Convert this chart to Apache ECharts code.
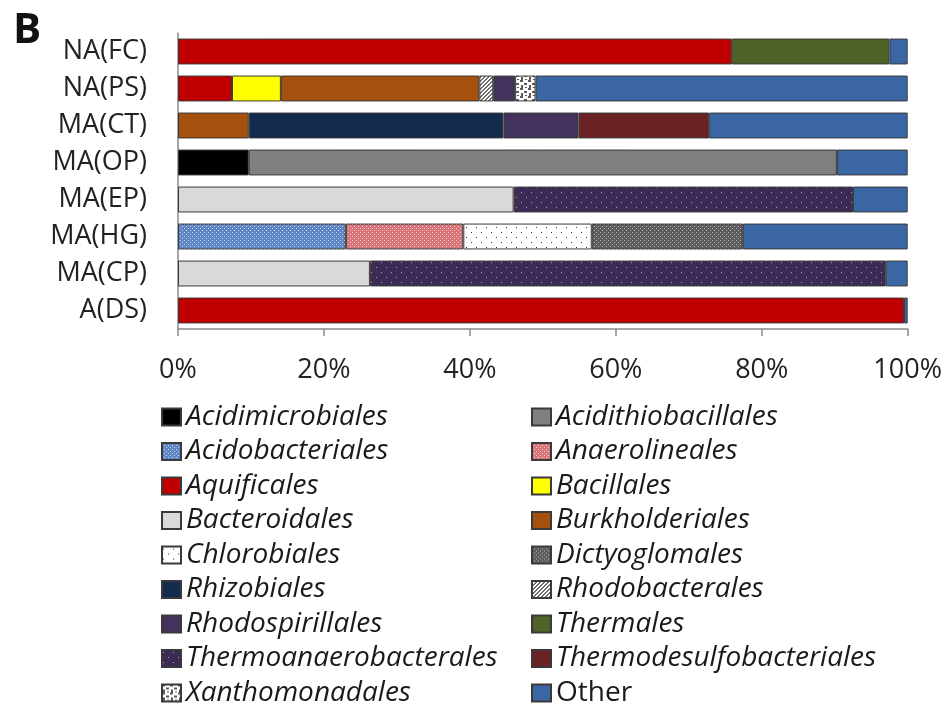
<!DOCTYPE html>
<html>
<head>
<meta charset="utf-8">
<script src="https://cdn.jsdelivr.net/npm/echarts@6/dist/echarts.min.js"></script>
<style>
  html, body { margin: 0; padding: 0; background: #fff; }
  #chart { width: 945px; height: 704px; }
</style>
</head>
<body>
<div id="chart"></div>
<script>
// samples, top to bottom
const samples = ['NA(FC)', 'NA(PS)', 'MA(CT)', 'MA(OP)', 'MA(EP)', 'MA(HG)', 'MA(CP)', 'A(DS)'];
const xTicks = [0, 20, 40, 60, 80, 100];

// relative abundance (%) per order, same order as samples
const acidimicrobiales         = [0, 0, 0, 9.7, 0, 0, 0, 0];
const acidithiobacillales      = [0, 0, 0, 80.6, 0, 0, 0, 0];
const acidobacteriales         = [0, 0, 0, 0, 0, 23.0, 0, 0];
const anaerolineales           = [0, 0, 0, 0, 0, 16.1, 0, 0];
const aquificales              = [75.9, 7.4, 0, 0, 0, 0, 0, 99.5];
const bacillales               = [0, 6.7, 0, 0, 0, 0, 0, 0];
const bacteroidales            = [0, 0, 0, 0, 46.0, 0, 26.3, 0];
const burkholderiales          = [0, 27.2, 9.7, 0, 0, 0, 0, 0];
const chlorobiales             = [0, 0, 0, 0, 0, 17.6, 0, 0];
const dictyoglomales           = [0, 0, 0, 0, 0, 20.7, 0, 0];
const rhizobiales              = [0, 0, 34.9, 0, 0, 0, 0, 0];
const rhodobacterales          = [0, 1.9, 0, 0, 0, 0, 0, 0];
const rhodospirillales         = [0, 3.0, 10.3, 0, 0, 0, 0, 0];
const thermales                = [21.6, 0, 0, 0, 0, 0, 0, 0];
const thermoanaerobacterales   = [0, 0, 0, 0, 46.5, 0, 70.7, 0];
const thermodesulfobacteriales = [0, 0, 17.9, 0, 0, 0, 0, 0];
const xanthomonadales          = [0, 2.8, 0, 0, 0, 0, 0, 0];
const other                    = [2.5, 51.0, 27.2, 9.7, 7.5, 22.6, 3.0, 0.5];

// legend columns
const legendLeft  = ['Acidimicrobiales', 'Acidobacteriales', 'Aquificales', 'Bacteroidales', 'Chlorobiales',
                     'Rhizobiales', 'Rhodospirillales', 'Thermoanaerobacterales', 'Xanthomonadales'];
const legendRight = ['Acidithiobacillales', 'Anaerolineales', 'Bacillales', 'Burkholderiales', 'Dictyoglomales',
                     'Rhodobacterales', 'Thermales', 'Thermodesulfobacteriales', 'Other'];

// small repeating fills for the hatched / dotted orders
function tile(size, bg, draw) {
  const c = document.createElement('canvas');
  c.width = c.height = size;
  const g = c.getContext('2d');
  g.fillStyle = bg;
  g.fillRect(0, 0, size, size);
  draw(g);
  return { image: c, repeat: 'repeat' };
}
function fineDots(bg, fg) {
  return tile(4, bg, g => { g.fillStyle = fg; g.fillRect(0, 0, 1, 1); g.fillRect(2, 2, 1, 1); });
}
function sparseDots(bg, fg) {
  return tile(10, bg, g => { g.fillStyle = fg; g.fillRect(1, 2, 1, 1); g.fillRect(6, 7, 1, 1); });
}
const hatch = tile(4, '#ffffff', g => {
  g.fillStyle = '#6f6f6f';
  for (let x = 0; x < 4; x++) for (let y = 0; y < 4; y++) if ((x + y) % 4 < 2) g.fillRect(x, y, 1, 1);
});
const mottle = tile(8, '#ffffff', g => {
  g.fillStyle = '#5a5a5a';
  g.fillRect(0, 0, 3, 2); g.fillRect(4, 3, 3, 2); g.fillRect(1, 5, 2, 3); g.fillRect(5, 7, 2, 1);
});

const fills = {
  Acidimicrobiales: '#000000',
  Acidithiobacillales: '#808080',
  Acidobacteriales: fineDots('#5f86c4', '#c8d8f0'),
  Anaerolineales: fineDots('#d6767a', '#f7cfcf'),
  Aquificales: '#c00000',
  Bacillales: '#ffff00',
  Bacteroidales: '#d9d9d9',
  Burkholderiales: '#a5500c',
  Chlorobiales: sparseDots('#ffffff', '#333333'),
  Dictyoglomales: fineDots('#5c5c5c', '#b5b5b5'),
  Rhizobiales: '#132c4e',
  Rhodobacterales: hatch,
  Rhodospirillales: '#43325c',
  Thermales: '#4f6228',
  Thermoanaerobacterales: sparseDots('#3b2b55', '#b0a2cc'),
  Thermodesulfobacteriales: '#6b2224',
  Xanthomonadales: mottle,
  Other: '#3a67a3'
};

const seriesData = [
  ['Acidimicrobiales', acidimicrobiales],
  ['Acidithiobacillales', acidithiobacillales],
  ['Acidobacteriales', acidobacteriales],
  ['Anaerolineales', anaerolineales],
  ['Aquificales', aquificales],
  ['Bacillales', bacillales],
  ['Bacteroidales', bacteroidales],
  ['Burkholderiales', burkholderiales],
  ['Chlorobiales', chlorobiales],
  ['Dictyoglomales', dictyoglomales],
  ['Rhizobiales', rhizobiales],
  ['Rhodobacterales', rhodobacterales],
  ['Rhodospirillales', rhodospirillales],
  ['Thermales', thermales],
  ['Thermoanaerobacterales', thermoanaerobacterales],
  ['Thermodesulfobacteriales', thermodesulfobacteriales],
  ['Xanthomonadales', xanthomonadales],
  ['Other', other]
];

const labelFont = "'Open Sans', sans-serif";

function legendBox(names, left) {
  return {
    orient: 'vertical',
    left: left,
    top: 398,
    height: 330,
    itemWidth: 19,
    itemHeight: 17,
    itemGap: 6.5,
    icon: 'rect',
    selectedMode: false,
    data: names.map(n => ({
      name: n,
      textStyle: { fontStyle: n === 'Other' ? 'normal' : 'italic' }
    })),
    textStyle: { fontFamily: labelFont, fontSize: 28, lineHeight: 28, color: '#1a1a1a' }
  };
}

const chart = echarts.init(document.getElementById('chart'));
chart.setOption({
  animation: false,
  backgroundColor: '#ffffff',
  graphic: [{
    type: 'text', left: 13, top: 10,
    style: { text: 'B', font: "bold 42px 'Open Sans', sans-serif", fill: '#111' }
  }],
  grid: { left: 178, right: 37, top: 33, bottom: 375, containLabel: false },
  legend: [legendBox(legendLeft, 156), legendBox(legendRight, 526)],
  xAxis: {
    type: 'value', min: 0, max: 100, interval: 20,
    axisLine: { show: true, lineStyle: { color: '#8a8a8a', width: 1.5 } },
    axisTick: { show: true, length: 7, lineStyle: { color: '#8a8a8a', width: 1.5 } },
    splitLine: { show: false },
    axisLabel: {
      formatter: '{value}%', margin: 28,
      fontFamily: labelFont, fontSize: 27, color: '#222'
    }
  },
  yAxis: {
    type: 'category', data: samples, inverse: true,
    axisLine: { show: true, lineStyle: { color: '#8a8a8a', width: 1.5 } },
    axisTick: { show: false },
    axisLabel: { margin: 31, fontFamily: labelFont, fontSize: 27, color: '#222' }
  },
  series: seriesData.map(([name, vals]) => ({
    name: name,
    type: 'bar',
    stack: 'total',
    barCategoryGap: '30%',
    data: vals.map(v => (v > 0 ? v : '-')),
    itemStyle: { color: fills[name], borderColor: '#3a3a3a', borderWidth: 1 }
  }))
});
</script>
</body>
</html>
